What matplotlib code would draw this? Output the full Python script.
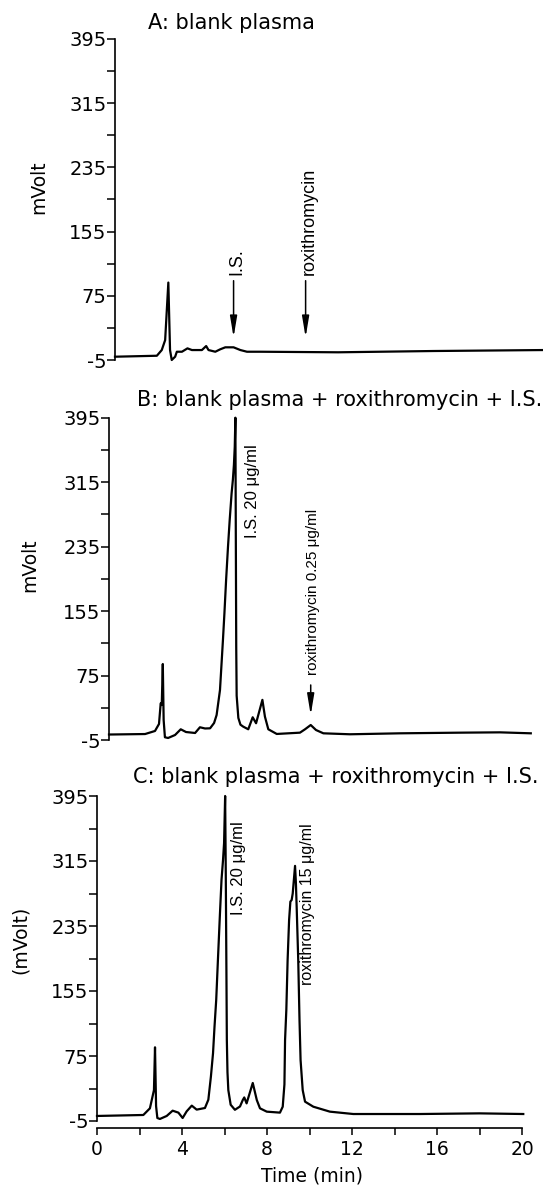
import matplotlib
matplotlib.use('Agg')
import matplotlib.pyplot as plt

W, H = 543, 1188
plt.rcParams['font.family'] = ['DejaVu Sans']
plt.rcParams['axes.unicode_minus'] = False

# ---------------- data ----------------
a_time = [0.0, 1.97, 2.20, 2.36, 2.51, 2.59, 2.67, 2.83, 2.91, 3.15, 3.41, 3.62, 4.09, 4.29, 4.40,
          4.72, 4.95, 5.19, 5.58, 5.90, 6.21, 6.84, 10.5, 15.0, 20.13]
a_mv = [-0.9, 0.3, 7.4, 19.8, 91.5, 7.4, -5.0, -0.9, 5.3, 5.3, 9.5, 7.4, 7.4, 12.4, 7.4,
        5.3, 8.3, 10.8, 10.8, 7.4, 5.3, 5.3, 4.6, 6.2, 7.4]

b_time = [0.0, 1.71, 2.18, 2.37, 2.45, 2.50, 2.55, 2.59, 2.65, 2.80, 3.13, 3.40, 3.65, 4.08, 4.31,
          4.55, 4.79, 4.98, 5.10, 5.26, 5.40, 5.47, 5.55, 5.64, 5.72, 5.81, 5.87, 5.92, 5.96, 5.99,
          6.01, 6.03, 6.05, 6.13, 6.23, 6.36, 6.60, 6.81, 6.97, 7.27, 7.39, 7.55, 7.95, 9.05, 9.29,
          9.56, 9.81, 10.16, 11.42, 13.79, 16.64, 18.53, 19.99]
b_mv = [1.8, 2.4, 6.2, 14.9, 40.5, 38.4, 89.3, 19.8, -1.6, -2.5, 1.2, 8.3, 4.9, 3.7, 10.8,
        9.3, 9.5, 16.1, 26.0, 57.0, 119.0, 152.2, 193.6, 235.0, 268.0, 301.0, 317.7, 336.3, 359.0, 395.0,
        250.0, 110.0, 50.0, 22.4, 14.0, 11.6, 8.3, 23.2, 15.8, 44.8, 24.0, 8.3, 2.5, 4.1, 8.3,
        13.6, 7.4, 3.3, 2.1, 3.3, 4.1, 4.5, 3.3]

c_time = [0.0, 2.18, 2.49, 2.68, 2.73, 2.78, 2.84, 2.96, 3.28, 3.56, 3.83, 4.03, 4.22, 4.46, 4.69,
          5.08, 5.24, 5.36, 5.46, 5.53, 5.61, 5.69, 5.78, 5.86, 5.93, 5.98, 6.03, 6.06, 6.09, 6.11,
          6.14, 6.18, 6.29, 6.49, 6.73, 6.86, 6.93, 7.04, 7.33, 7.52, 7.67, 7.99, 8.61, 8.74, 8.82,
          8.85, 8.91, 8.97, 9.04, 9.10, 9.16, 9.21, 9.32, 9.36, 9.40, 9.47, 9.53, 9.58, 9.68, 9.79,
          10.18, 10.96, 12.06, 15.2, 18.0, 20.06]
c_mv = [1.2, 2.4, 10.6, 33.0, 85.7, 13.4, -1.3, -2.5, 1.2, 7.7, 5.3, -1.3, 6.9, 13.9, 9.0,
        11.0, 21.2, 49.6, 78.4, 111.0, 144.0, 193.0, 246.7, 292.0, 316.0, 337.0, 395.0, 300.0, 180.0, 94.7,
        55.0, 33.0, 15.0, 8.8, 12.9, 20.8, 24.0, 16.7, 41.8, 20.8, 10.6, 6.5, 5.3, 12.6, 40.0,
        94.7, 132.0, 193.0, 242.5, 265.0, 267.0, 275.0, 309.0, 288.0, 255.0, 193.0, 119.0, 70.0, 33.0, 18.8,
        12.6, 6.5, 3.6, 3.6, 4.4, 3.6]

y_major = [-5, 75, 155, 235, 315, 395]
y_major_labels = ["-5", "75", "155", "235", "315", "395"]
y_minor = [35, 115, 195, 275, 355]
x_major = [0, 4, 8, 12, 16, 20]
x_major_labels = ["0", "4", "8", "12", "16", "20"]
x_minor = [2, 6, 10, 14, 18]

titles = ["A: blank plasma",
          "B: blank plasma + roxithromycin + I.S.",
          "C: blank plasma + roxithromycin + I.S."]
ylabels = ["mVolt", "mVolt", "(mVolt)"]

a_labels = ["I.S.", "roxithromycin"]
a_label_t = [5.74, 9.13]
a_label_mv = [100.9, 100.9]
a_arrow_t = [5.58, 8.97]
a_arrow_top = [93.8, 93.8]
a_arrow_tip = [23.3, 23.3]

b_labels = ["I.S. 20 \u03bcg/ml", "roxithromycin 0.25 \u03bcg/ml"]
b_label_t = [6.8, 9.68]
b_label_mv = [245.3, 75.7]
b_arrow_t = [9.56]
b_arrow_top = [63.3]
b_arrow_tip = [26.0]

c_labels = ["I.S. 20 \u03bcg/ml", "roxithromycin 15 \u03bcg/ml"]
c_label_t = [6.64, 9.91]
c_label_mv = [248.5, 162.4]

# ---------------- layout ----------------
fig = plt.figure(figsize=(W / 100, H / 100), dpi=100)


def px_rect(x0, x1, ytop, ybot):
    return [x0 / W, 1 - ybot / H, (x1 - x0) / W, (ybot - ytop) / H]


def make_axes(rect, bottom_axis=False):
    ax = fig.add_axes(rect)
    ax.set_xlim(0, 20)
    ax.set_ylim(-5, 395)
    for s in ['top', 'right']:
        ax.spines[s].set_visible(False)
    ax.spines['left'].set_linewidth(1.2)
    ax.set_yticks(y_major)
    ax.set_yticklabels(y_major_labels)
    ax.set_yticks(y_minor, minor=True)
    ax.tick_params(axis='y', which='both', direction='out', length=5.5, width=1.1,
                   labelsize=14, pad=0.5)
    if bottom_axis:
        ax.spines['bottom'].set_position(('outward', 5.3))
        ax.spines['bottom'].set_linewidth(1.2)
        ax.set_xticks(x_major)
        ax.set_xticklabels(x_major_labels)
        ax.set_xticks(x_minor, minor=True)
        ax.tick_params(axis='x', which='both', direction='out', length=5, width=1.1,
                       labelsize=13.5, pad=3.5)
    else:
        ax.spines['bottom'].set_visible(False)
        ax.set_xticks([])
    ax.patch.set_alpha(0)
    return ax


axA = make_axes(px_rect(115, 540, 39, 360))
axB = make_axes(px_rect(109, 531, 417.7, 740))
axC = make_axes(px_rect(97, 522, 796, 1121), bottom_axis=True)

line_kw = dict(color='black', lw=1.6, clip_on=False, solid_joinstyle='round')
axA.plot(a_time, a_mv, **line_kw)
axB.plot(b_time, b_mv, **line_kw)
axC.plot(c_time, c_mv, **line_kw)

arrow_kw = dict(arrowstyle='-|>,head_length=0.9,head_width=0.15', color='black', lw=1.1,
                shrinkA=0, shrinkB=0, mutation_scale=14)

for lab, t, mv in zip(a_labels, a_label_t, a_label_mv):
    axA.text(t, mv, lab, rotation=90, ha='center', va='bottom', fontsize=13,
             family=['Liberation Sans', 'DejaVu Sans'])
for t, top, tip in zip(a_arrow_t, a_arrow_top, a_arrow_tip):
    axA.annotate('', xy=(t, tip), xytext=(t, top), arrowprops=arrow_kw)

for lab, t, mv, fs in zip(b_labels, b_label_t, b_label_mv, [12, 11]):
    axB.text(t, mv, lab, rotation=90, ha='center', va='bottom', fontsize=fs,
             family=['Liberation Sans', 'DejaVu Sans'])
for t, top, tip in zip(b_arrow_t, b_arrow_top, b_arrow_tip):
    axB.annotate('', xy=(t, tip), xytext=(t, top), arrowprops=arrow_kw)

for lab, t, mv, fs in zip(c_labels, c_label_t, c_label_mv, [12, 11.5]):
    axC.text(t, mv, lab, rotation=90, ha='center', va='bottom', fontsize=fs,
             family=['Liberation Sans', 'DejaVu Sans'])

# titles
title_pos = [(231, 29.3), (339.5, 406), (335.5, 782.7)]
for txt, (x, y) in zip(titles, title_pos):
    fig.text(x / W, 1 - y / H, txt, ha='center', va='baseline', fontsize=15)

# y labels
ylab_pos = [(39, 187), (30, 565), (20, 940)]
for txt, (x, y) in zip(ylabels, ylab_pos):
    fig.text(x / W, 1 - y / H, txt, rotation=90, ha='center', va='center', fontsize=13.5)

fig.text(312 / W, 1 - 1176 / H, "Time (min)", ha='center', va='center', fontsize=13.5)

fig.savefig('out.png', dpi=100)
